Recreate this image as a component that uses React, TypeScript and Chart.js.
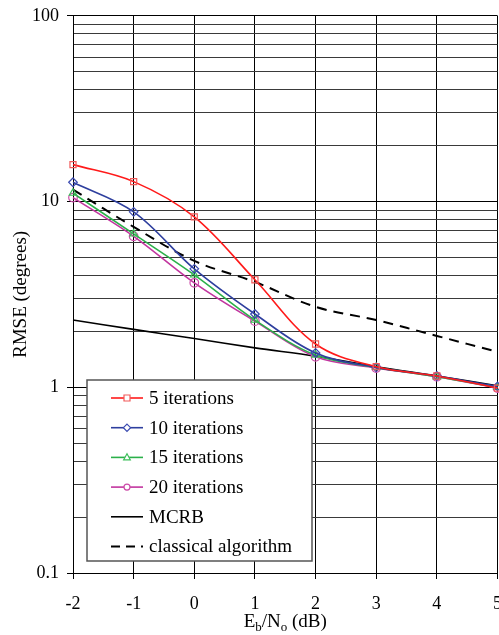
import React, { useEffect, useRef } from 'react';
import { Chart, registerables } from 'chart.js';

Chart.register(...registerables);

const EBNO = [-2, -1, 0, 1, 2, 3, 4, 5];
const ITER5 = [15.8, 12.8, 8.27, 3.79, 1.71, 1.29, 1.15, 0.99];
const ITER10 = [12.7, 8.8, 4.34, 2.48, 1.53, 1.28, 1.15, 1.01];
const ITER15 = [11.1, 6.7, 4.03, 2.3, 1.49, 1.28, 1.14, 1.0];
const ITER20 = [10.5, 6.5, 3.65, 2.27, 1.46, 1.27, 1.14, 0.99];
const MCRB = [2.3, 2.05, 1.83, 1.63, 1.47, 1.29, 1.15, 1.02];
const CLASSICAL = [11.6, 7.3, 4.79, 3.69, 2.71, 2.3, 1.89, 1.55];

const SERIES_NAMES = ['5 iterations', '10 iterations', '15 iterations', '20 iterations', 'MCRB', 'classical algorithm'];
const Y_TICK_VALUES = [0.1, 0.2, 0.3, 0.4, 0.5, 0.6, 0.7, 0.8, 0.9, 1, 2, 3, 4, 5, 6, 7, 8, 9, 10, 20, 30, 40, 50, 60, 70, 80, 90, 100];
const Y_TICK_LABELS = ['0.1', '1', '10', '100'];
const X_TICK_VALUES = [-2, -1, 0, 1, 2, 3, 4, 5];
const Y_TITLE = 'RMSE (degrees)';

const FONT = "'Liberation Serif', 'Times New Roman', serif";
const SHIFT = 3; // canvas is placed 3px above the page top

const COLORS = ['#ff1a1a', '#2e3f9e', '#2bb04a', '#c2359f', '#000000', '#000000'];
const MARKER_COLORS = ['#f25a5a', '#3a4ab0', '#3cbf5a', '#cc4aa8', '#000000', '#000000'];
const MARKERS: (string | false)[] = ['rect', 'rectRot', 'triangle', 'circle', false, false];

function labelFor(v: number): string {
  const found = Y_TICK_LABELS.find((l) => Math.abs(Number(l) - v) < 1e-9);
  return found ?? '';
}

function drawMarker(ctx: CanvasRenderingContext2D, style: string, x: number, y: number, r: number) {
  ctx.beginPath();
  if (style === 'rect') {
    ctx.rect(x - r, y - r, 2 * r, 2 * r);
  } else if (style === 'rectRot') {
    ctx.moveTo(x, y - r * 1.2);
    ctx.lineTo(x + r * 1.2, y);
    ctx.lineTo(x, y + r * 1.2);
    ctx.lineTo(x - r * 1.2, y);
    ctx.closePath();
  } else if (style === 'triangle') {
    ctx.moveTo(x, y - r * 1.2);
    ctx.lineTo(x + r * 1.1, y + r * 0.8);
    ctx.lineTo(x - r * 1.1, y + r * 0.8);
    ctx.closePath();
  } else {
    ctx.arc(x, y, r, 0, Math.PI * 2);
  }
  ctx.fillStyle = '#fff';
  ctx.fill();
  ctx.stroke();
}

const legendPlugin = {
  id: 'customLegend',
  afterDatasetsDraw(chart: any) {
    const ctx: CanvasRenderingContext2D = chart.ctx;
    const bx = 87, by = 380 + SHIFT, bw = 225, bh = 181;
    ctx.save();
    ctx.fillStyle = '#fff';
    ctx.fillRect(bx, by, bw, bh);
    ctx.strokeStyle = '#555';
    ctx.lineWidth = 1.5;
    ctx.strokeRect(bx, by, bw, bh);
    SERIES_NAMES.forEach((name, i) => {
      const y = 398 + SHIFT + i * 29.7;
      ctx.strokeStyle = COLORS[i];
      ctx.lineWidth = i === 5 ? 2 : 1.6;
      ctx.setLineDash(i === 5 ? [9, 6] : []);
      ctx.beginPath();
      ctx.moveTo(111, y);
      ctx.lineTo(143, y);
      ctx.stroke();
      ctx.setLineDash([]);
      const m = MARKERS[i];
      if (m) {
        ctx.strokeStyle = MARKER_COLORS[i];
        ctx.lineWidth = 1.2;
        drawMarker(ctx, m, 127, y, 3);
      }
      ctx.fillStyle = '#000';
      ctx.font = `19px ${FONT}`;
      ctx.textBaseline = 'middle';
      ctx.textAlign = 'left';
      ctx.fillText(name, 149, y + 1);
    });
    ctx.restore();
  },
  afterDraw(chart: any) {
    const ctx: CanvasRenderingContext2D = chart.ctx;
    const area = chart.chartArea;
    const cx = (area.left + area.right) / 2;
    const base = 627 + SHIFT;
    const parts = [
      { t: 'E', sub: false },
      { t: 'b', sub: true },
      { t: '/N', sub: false },
      { t: 'o', sub: true },
      { t: ' (dB)', sub: false },
    ];
    ctx.save();
    ctx.fillStyle = '#000';
    ctx.textBaseline = 'alphabetic';
    ctx.textAlign = 'left';
    const widths = parts.map((p) => {
      ctx.font = `${p.sub ? 13 : 19}px ${FONT}`;
      return ctx.measureText(p.t).width;
    });
    const total = widths.reduce((a, b) => a + b, 0);
    let x = cx - total / 2;
    parts.forEach((p, i) => {
      ctx.font = `${p.sub ? 13 : 19}px ${FONT}`;
      ctx.fillText(p.t, x, p.sub ? base + 4 : base);
      x += widths[i];
    });
    ctx.restore();
  },
};

function makeDataset(label: string, values: number[], i: number) {
  const m = MARKERS[i];
  return {
    label,
    data: EBNO.map((x, k) => ({ x, y: values[k] })),
    borderColor: COLORS[i],
    borderWidth: i >= 4 ? (i === 5 ? 2 : 1.6) : 1.6,
    borderDash: i === 5 ? [10, 7] : [],
    pointStyle: m || 'circle',
    pointRadius: m ? 4.3 : 0,
    pointBorderColor: MARKER_COLORS[i],
    pointBackgroundColor: 'rgba(0,0,0,0)',
    pointBorderWidth: 1.2,
    tension: 0.35,
    fill: false,
    clip: false as any,
  };
}

export default function App() {
  const ref = useRef<HTMLCanvasElement>(null);
  useEffect(() => {
    if (!ref.current) return;
    const all = [ITER5, ITER10, ITER15, ITER20, MCRB, CLASSICAL];
    const chart = new Chart(ref.current, {
      type: 'line',
      data: {
        datasets: SERIES_NAMES.map((n, i) => makeDataset(n, all[i], i)) as any,
      },
      options: {
        responsive: false,
        animation: false,
        layout: { padding: { top: 14, right: 7, left: 0, bottom: 0 } },
        plugins: { legend: { display: false }, tooltip: { enabled: false } },
        scales: {
          x: {
            type: 'linear',
            min: -2,
            max: 5,
            afterBuildTicks: (s: any) => {
              s.ticks = X_TICK_VALUES.map((v) => ({ value: v }));
            },
            afterFit: (s: any) => {
              s.height = 62;
            },
            grid: { color: '#000', lineWidth: 1, tickLength: 6, tickColor: '#000' },
            border: { color: '#000', width: 1 },
            ticks: {
              font: { family: FONT, size: 18 },
              color: '#000',
              padding: 14,
              maxRotation: 0,
              autoSkip: false,
            },
          },
          y: {
            type: 'logarithmic',
            min: 0.1,
            max: 100,
            afterBuildTicks: (s: any) => {
              s.ticks = Y_TICK_VALUES.map((v) => ({ value: v, major: labelFor(v) !== '' }));
            },
            afterFit: (s: any) => {
              s.width = 73;
            },
            grid: {
              color: (c: any) => (labelFor(c.tick?.value) !== '' ? '#000' : '#3a3a3a'),
              lineWidth: 1,
              tickLength: 6,
              tickColor: (c: any) => (labelFor(c.tick?.value) !== '' ? '#000' : 'rgba(0,0,0,0)'),
            },
            border: { color: '#000', width: 1 },
            ticks: {
              font: { family: FONT, size: 18 },
              color: '#000',
              padding: 8,
              autoSkip: false,
              callback: (v: any) => labelFor(Number(v)),
            },
            title: {
              display: true,
              text: Y_TITLE,
              font: { family: FONT, size: 19 },
              color: '#000',
              padding: { top: 10, bottom: 0 },
            },
          },
        },
      },
      plugins: [legendPlugin],
    });
    return () => chart.destroy();
  }, []);

  return (
    <div style={{ position: 'absolute', left: 0, top: 0, width: 499, height: 635, overflow: 'hidden', background: '#fff' }}>
      <canvas
        ref={ref}
        width={516}
        height={638}
        style={{ position: 'absolute', left: 0, top: -SHIFT, width: 516, height: 638, display: 'block' }}
      />
    </div>
  );
}
